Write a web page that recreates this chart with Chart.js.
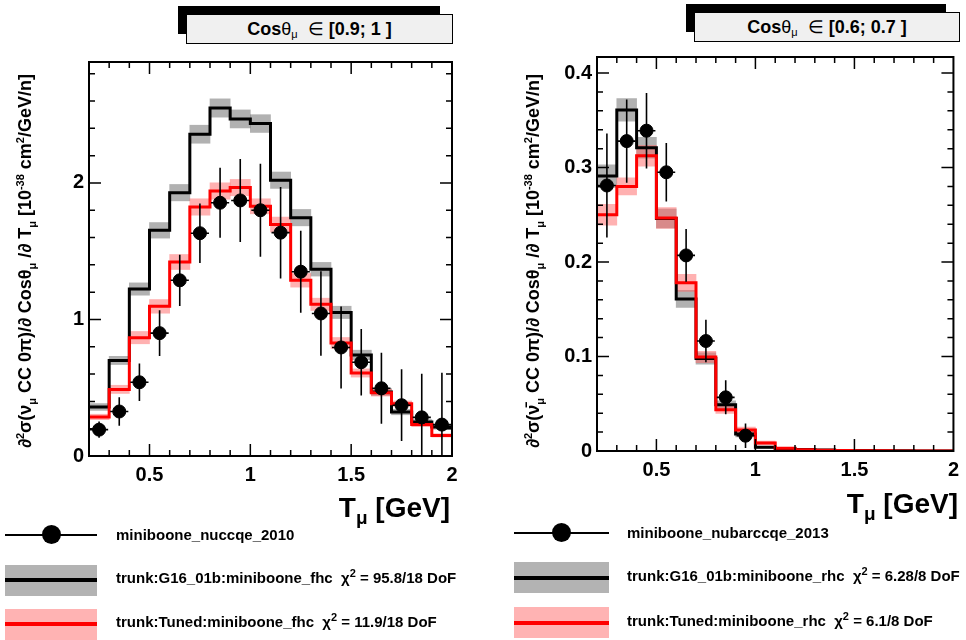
<!DOCTYPE html>
<html>
<head>
<meta charset="utf-8">
<script src="https://cdn.jsdelivr.net/npm/chart.js@4.4.0/dist/chart.umd.min.js"></script>
<style>
body{margin:0;background:#fff;width:966px;height:640px;overflow:hidden;position:relative;
  font-family:"Liberation Sans",Arial,sans-serif;font-weight:bold;color:#000}
canvas{position:absolute;top:0}
.shadow{position:absolute;background:#000}
.tbox{position:absolute;background:#f0f0f0;border:1px solid #000;box-sizing:border-box;font-size:18px;text-align:center;line-height:28px;white-space:nowrap}
.tbox sub{font-size:11px;vertical-align:-3px;line-height:0}
.sym{font-weight:normal}
.ytitle{position:absolute;white-space:nowrap;font-size:18px;transform-origin:0 0;transform:rotate(-90deg)}
.ytitle sub,.ytitle sup,.leg sup{font-size:11px;line-height:0}
.xtitle{position:absolute;white-space:nowrap;font-size:28px;text-align:right}
.xtitle sub{font-size:19px;line-height:0;vertical-align:-7px}
.leg{position:absolute;white-space:nowrap;font-size:15px}
.band{position:absolute}
.ln{position:absolute}
.dot{position:absolute;width:19px;height:19px;border-radius:50%;background:#000}
</style>
</head>
<body>
<canvas id="cL" width="483" height="640" style="left:0"></canvas>
<canvas id="cR" width="483" height="640" style="left:483px"></canvas>

<div class="shadow" style="left:178px;top:6px;width:262px;height:28px"></div>
<div class="tbox" style="left:186px;top:14px;width:267px;height:30px">Cos<span class="sym">θ<sub>μ</sub></span>&nbsp; <span class="sym">∈</span> [0.9; 1 ]</div>
<div class="shadow" style="left:686px;top:4px;width:260px;height:28px"></div>
<div class="tbox" style="left:694px;top:12px;width:266px;height:30px">Cos<span class="sym">θ<sub>μ</sub></span>&nbsp; <span class="sym">∈</span> [0.6; 0.7 ]</div>

<div class="ytitle" style="left:15px;top:448px">∂<sup>2</sup>σ(ν<sub>μ</sub> CC 0π)/∂ Cosθ<sub>μ</sub> /∂ T<sub>μ</sub> [10<sup>-38</sup> cm<sup>2</sup>/GeV/n]</div>
<div class="ytitle" style="left:523px;top:448px">∂<sup>2</sup>σ(ν̄<sub>μ</sub> CC 0π)/∂ Cosθ<sub>μ</sub> /∂ T<sub>μ</sub> [10<sup>-38</sup> cm<sup>2</sup>/GeV/n]</div>

<div class="xtitle" style="right:516px;top:492px">T<sub>μ</sub> [GeV]</div>
<div class="xtitle" style="right:8px;top:488px">T<sub>μ</sub> [GeV]</div>

<!-- left legend -->
<div class="ln" style="left:5px;top:534px;width:92px;height:2px;background:#000"></div>
<div class="dot" style="left:42px;top:525px"></div>
<div class="leg" style="left:116px;top:526px">miniboone_nuccqe_2010</div>
<div class="band" style="left:5px;top:565px;width:92px;height:31px;background:#b3b3b3"></div>
<div class="ln" style="left:5px;top:578px;width:92px;height:4px;background:#000"></div>
<div class="leg" style="left:116px;top:569px">trunk:G16_01b:miniboone_fhc&nbsp; χ<sup>2</sup> = 95.8/18 DoF</div>
<div class="band" style="left:5px;top:609px;width:92px;height:31px;background:#ffb3b3"></div>
<div class="ln" style="left:5px;top:622px;width:92px;height:4px;background:#f00"></div>
<div class="leg" style="left:116px;top:613px">trunk:Tuned:miniboone_fhc&nbsp; χ<sup>2</sup> = 11.9/18 DoF</div>

<!-- right legend -->
<div class="ln" style="left:514px;top:532px;width:95px;height:2px;background:#000"></div>
<div class="dot" style="left:552px;top:523px"></div>
<div class="leg" style="left:627px;top:524px">miniboone_nubarccqe_2013</div>
<div class="band" style="left:514px;top:562px;width:95px;height:31px;background:#b3b3b3"></div>
<div class="ln" style="left:514px;top:576px;width:95px;height:4px;background:#000"></div>
<div class="leg" style="left:627px;top:567px">trunk:G16_01b:miniboone_rhc&nbsp; χ<sup>2</sup> = 6.28/8 DoF</div>
<div class="band" style="left:514px;top:607px;width:95px;height:31px;background:#ffb3b3"></div>
<div class="ln" style="left:514px;top:621px;width:95px;height:4px;background:#f00"></div>
<div class="leg" style="left:627px;top:612px">trunk:Tuned:miniboone_rhc&nbsp; χ<sup>2</sup> = 6.1/8 DoF</div>

<script>
// bins in T_mu (GeV), lower edges; last edge 2.0
const binLo = [0.2,0.3,0.4,0.5,0.6,0.7,0.8,0.9,1.0,1.1,1.2,1.3,1.4,1.5,1.6,1.7,1.8,1.9];
const binHi = 2.0;

// cos theta in [0.9; 1]  (nu mode)
const dataXL = [0.25,0.35,0.45,0.55,0.65,0.75,0.85,0.95,1.05,1.15,1.25,1.35,1.45,1.55,1.65,1.75,1.85,1.95];
const dataL = [0.193,0.326,0.54,0.90,1.287,1.632,1.855,1.872,1.80,1.636,1.35,1.044,0.795,0.687,0.496,0.372,0.283,0.23];
const dataErrL = [0.06,0.105,0.137,0.167,0.188,0.218,0.257,0.304,0.34,0.335,0.30,0.31,0.30,0.243,0.26,0.263,0.32,0.38];
const g16L = [0.359,0.70,1.223,1.653,1.929,2.357,2.549,2.469,2.435,2.02,1.746,1.368,1.052,0.74,0.469,0.322,0.249,0.212];
const g16ErrL = [0.025,0.03,0.045,0.057,0.06,0.066,0.067,0.066,0.065,0.06,0.06,0.05,0.045,0.035,0.025,0.02,0.018,0.016];
const tunedL = [0.286,0.488,0.867,1.096,1.421,1.824,1.941,1.966,1.829,1.695,1.287,1.111,0.828,0.608,0.464,0.383,0.23,0.151];
const tunedErrL = [0.02,0.03,0.045,0.05,0.055,0.06,0.06,0.06,0.055,0.055,0.05,0.045,0.04,0.03,0.025,0.02,0.015,0.012];

// cos theta in [0.6; 0.7]  (anti-nu mode)
const dataXR = [0.25,0.35,0.45,0.55,0.65,0.75,0.85,0.95];
const dataR = [0.281,0.328,0.339,0.295,0.207,0.1164,0.0568,0.0162];
const dataErrR = [0.055,0.044,0.04,0.031,0.028,0.0225,0.018,0.013];
const g16R = [0.291,0.361,0.321,0.246,0.161,0.098,0.049,0.018,0.004,0.0025,0.0015,0.001,0.0006,0.0004,0.0003,0.0002,0.0001,0.0001];
const g16ErrR = [0.012,0.012,0.011,0.01,0.009,0.006,0.004,0.003,0.001,0.0005,0.0004,0.0003,0.0002,0.0001,0.0001,0.0001,0.0001,0.0001];
const tunedR = [0.250,0.280,0.3125,0.2466,0.178,0.0995,0.0437,0.0222,0.0085,0.003,0.0014,0.0007,0.0004,0.0003,0.0002,0.0001,0.0001,0.0001];
const tunedErrR = [0.011,0.009,0.011,0.011,0.009,0.006,0.004,0.003,0.002,0.001,0.0005,0.0003,0.0002,0.0001,0.0001,0.0001,0.0001,0.0001];

const xTicks = [0.5,1,1.5,2];
const yTicksL = [0,1,2];
const yTicksR = [0,0.1,0.2,0.3,0.4];

const FONT = {family:'"Liberation Sans", Arial, sans-serif', size:20, weight:'bold'};

function stepPts(vals){
  const pts = binLo.map((x,i)=>({x:x, y:vals[i]}));
  pts.push({x:binHi, y:vals[vals.length-1]});
  return pts;
}
function bandPts(vals, errs){
  return binLo.map((x,i)=>({x:x+0.05, y:[vals[i]-errs[i], vals[i]+errs[i]]}));
}

// error bars + ROOT style frame with inward ticks
const rootPlugin = {
  id:'rootFrame',
  afterDatasetsDraw(chart, args, opt){
    const ctx = chart.ctx, xs = chart.scales.x, ys = chart.scales.y, a = chart.chartArea;
    const pts = chart.data.datasets.find(d=>d.yErr);
    ctx.save();
    ctx.beginPath(); ctx.rect(a.left,a.top,a.right-a.left,a.bottom-a.top); ctx.clip();
    ctx.strokeStyle='#000'; ctx.lineWidth=1.6;
    pts.data.forEach((p,i)=>{
      const px = xs.getPixelForValue(p.x), py = ys.getPixelForValue(p.y);
      ctx.beginPath();
      ctx.moveTo(px, ys.getPixelForValue(p.y-pts.yErr[i]));
      ctx.lineTo(px, ys.getPixelForValue(p.y+pts.yErr[i]));
      ctx.moveTo(xs.getPixelForValue(p.x-0.045), py);
      ctx.lineTo(xs.getPixelForValue(p.x+0.045), py);
      ctx.stroke();
    });
    ctx.restore();

    ctx.save();
    ctx.strokeStyle='#000'; ctx.lineWidth=2;
    ctx.strokeRect(a.left,a.top,a.right-a.left,a.bottom-a.top);
    ctx.lineWidth=1.5;
    const eps=1e-6;
    for(let v=xs.min+opt.xMinor; v<xs.max-eps; v+=opt.xMinor){
      const major = xTicks.some(t=>Math.abs(t-v)<eps);
      const L = major?12:6, px = xs.getPixelForValue(v);
      ctx.beginPath();
      ctx.moveTo(px,a.bottom); ctx.lineTo(px,a.bottom-L);
      ctx.moveTo(px,a.top); ctx.lineTo(px,a.top+L);
      ctx.stroke();
    }
    for(let v=ys.min+opt.yMinor; v<ys.max-eps; v+=opt.yMinor){
      const major = opt.yMajor.some(t=>Math.abs(t-v)<eps);
      const L = major?12:6, py = ys.getPixelForValue(v);
      ctx.beginPath();
      ctx.moveTo(a.left,py); ctx.lineTo(a.left+L,py);
      ctx.moveTo(a.right,py); ctx.lineTo(a.right-L,py);
      ctx.stroke();
    }
    ctx.restore();
  }
};

function makeChart(id, o){
  return new Chart(document.getElementById(id), {
    type:'bar',
    data:{datasets:[
      {type:'scatter', data:o.px.map((x,i)=>({x:x,y:o.pv[i]})), yErr:o.pe,
       backgroundColor:'#000', borderColor:'#000', pointRadius:6.5, pointHoverRadius:6.5, order:0},
      {type:'line', data:stepPts(o.tuned), stepped:'before', borderColor:'#ff0000', borderWidth:3,
       pointRadius:0, fill:false, order:1},
      {type:'line', data:stepPts(o.g16), stepped:'before', borderColor:'#000', borderWidth:3,
       pointRadius:0, fill:false, order:2},
      {type:'bar', data:bandPts(o.tuned,o.tunedErr), backgroundColor:'rgba(255,100,100,0.5)',
       grouped:false, barPercentage:1, categoryPercentage:1, order:3},
      {type:'bar', data:bandPts(o.g16,o.g16Err), backgroundColor:'rgba(100,100,100,0.5)',
       grouped:false, barPercentage:1, categoryPercentage:1, order:4}
    ]},
    options:{
      responsive:false, animation:false, events:[],
      layout:{padding:o.pad},
      plugins:{legend:{display:false}, tooltip:{enabled:false},
        rootFrame:{xMinor:0.1, yMinor:o.yMinor, yMajor:o.yTicks}},
      scales:{
        x:{type:'linear', min:0.2, max:2.0, offset:false,
           grid:{display:false, drawTicks:false}, border:{display:false},
           ticks:{font:FONT, color:'#000', padding:7, maxRotation:0, callback:v=>String(v)},
           afterBuildTicks:s=>{s.ticks = xTicks.map(v=>({value:v}));},
           afterFit:s=>{s.height=40;}},
        y:{type:'linear', min:0, max:o.ymax,
           grid:{display:false, drawTicks:false}, border:{display:false},
           ticks:{font:FONT, color:'#000', padding:5, callback:v=>String(v)},
           afterBuildTicks:s=>{s.ticks = o.yTicks.map(v=>({value:v}));},
           afterFit:s=>{s.width=60;}}
      }
    },
    plugins:[rootPlugin]
  });
}

makeChart('cL', {px:dataXL, pv:dataL, pe:dataErrL, g16:g16L, g16Err:g16ErrL, tuned:tunedL, tunedErr:tunedErrL,
  ymax:2.886, yTicks:yTicksL, yMinor:0.2, pad:{left:29, right:31, top:62, bottom:144}});
makeChart('cR', {px:dataXR, pv:dataR, pe:dataErrR, g16:g16R, g16Err:g16ErrR, tuned:tunedR, tunedErr:tunedErrR,
  ymax:0.417, yTicks:yTicksR, yMinor:0.02, pad:{left:54, right:7, top:57, bottom:149}});
</script>
</body>
</html>
